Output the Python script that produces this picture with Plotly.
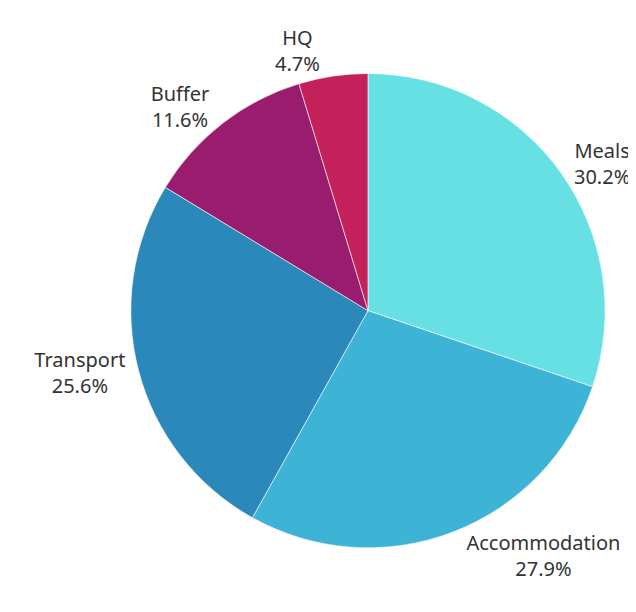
import plotly.graph_objects as go

labels = ["Meals", "Accommodation", "Transport", "Buffer", "HQ"]
values = [30.2, 27.9, 25.6, 11.6, 4.7]
colors = ["#67e0e4", "#3db3d6", "#2b88bb", "#991c6e", "#c4215a"]

# label layer: transparent pie carrying the outside labels
fig = go.Figure()
fig.add_trace(go.Pie(
    labels=labels,
    values=values,
    sort=False,
    direction="clockwise",
    rotation=0,
    marker=dict(colors=["rgba(0,0,0,0)"] * len(labels), line=dict(width=0)),
    textposition="outside",
    texttemplate="%{label}<br>%{percent:.1%}",
    textfont=dict(family="Noto Sans", size=20, color="#333333"),
    showlegend=False,
    hoverinfo="skip",
    domain=dict(x=[0.193, 0.939], y=[0.118, 0.893]),
))
fig.add_trace(go.Pie(
    labels=labels,
    values=values,
    sort=False,
    direction="clockwise",
    rotation=0,
    marker=dict(colors=colors, line=dict(color="#ffffff", width=0.6)),
    textinfo="none",
    showlegend=False,
    hoverinfo="label+percent",
    domain=dict(x=[0.193, 0.939], y=[0.118, 0.893]),
))

fig.update_layout(
    width=636, height=612,
    margin=dict(l=0, r=0, t=0, b=0),
    paper_bgcolor="#ffffff",
    plot_bgcolor="#ffffff",
)

fig.write_html("out.html")
